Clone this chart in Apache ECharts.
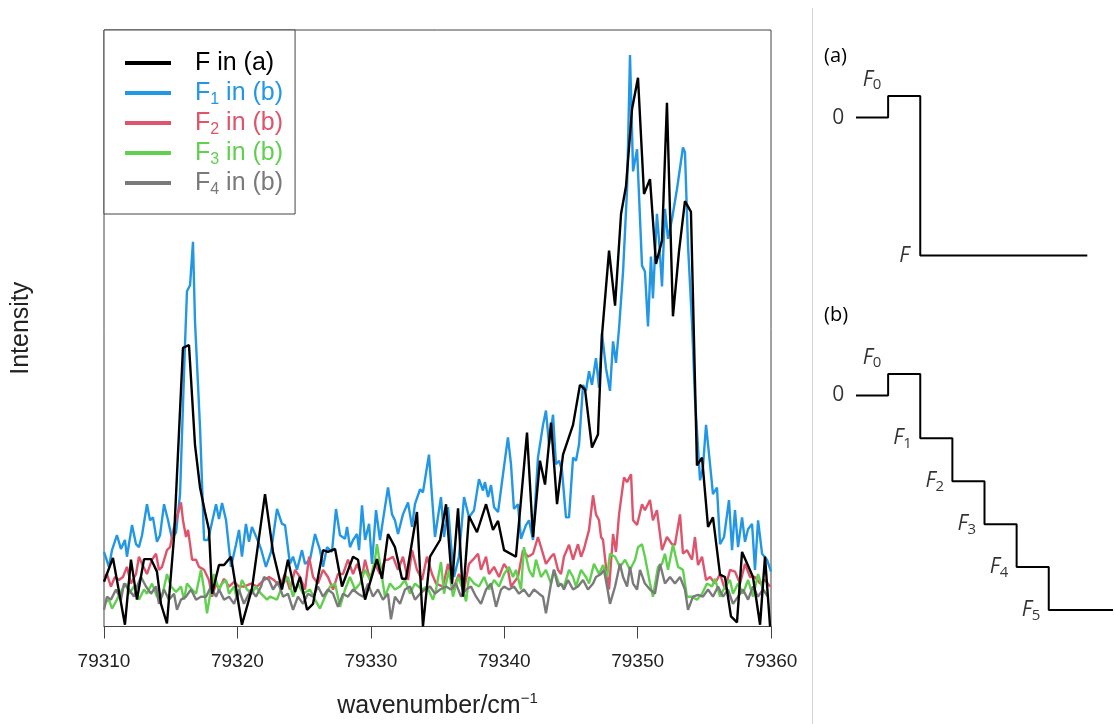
<!DOCTYPE html>
<html>
<head>
<meta charset="utf-8">
<title>Intensity vs wavenumber</title>
<script src="https://cdn.jsdelivr.net/npm/echarts@6/dist/echarts.min.js"></script>
<style>
  html, body { margin: 0; padding: 0; background: #fff; }
  #chart { width: 1115px; height: 724px; }
</style>
</head>
<body>
<div id="chart"></div>
<script>
// wavenumbers are stored as offsets from this value (cm-1)
var WN_START = 79310;
var xTicks = [79310, 79320, 79330, 79340, 79350, 79360];

// F in (a) : [offset, intensity]
var fA = [[0,7.5],[0.67,11.5],[1.57,0.3],[2.02,11.2],[2.47,4.5],[3.0,11.3],[3.52,11.3],[3.97,9.2],[4.27,3.8],[4.72,0.5],
  [5.25,15],[5.92,46.7],[6.37,47.2],[6.82,30.5],[7.2,23.3],[7.57,19.2],[7.87,16.2],[8.1,5.5],[8.62,10.3],[9.0,10.3],
  [9.52,11.7],[10.34,0.3],[11.09,6.3],[12.07,22.2],[12.67,12.5],[13.34,6.2],[13.79,11.2],[14.32,5.8],[14.69,8.3],[15.22,2.8],
  [15.67,3.8],[16.42,12.8],[16.79,12.5],[17.32,13],[17.84,6.7],[18.67,11.7],[19.04,11.2],[19.57,4.5],[20.46,11.3],[20.84,8],
  [21.29,15.5],[21.81,13.3],[22.34,8],[22.64,8],[23.46,19.2],[23.91,0],[24.44,11.7],[25.19,14.5],[25.64,20.5],[26.09,7.2],
  [26.54,19.8],[26.91,5],[27.36,18.5],[27.96,15.8],[28.64,20.5],[29.16,16.2],[29.54,17.7],[29.99,12.8],[30.88,11.7],[31.71,32.5],
  [32.16,15],[32.68,27.8],[33.06,23.8],[33.51,34.2],[33.96,20.5],[34.41,28.8],[35.16,33.8],[35.68,40.5],[36.06,39.7],[36.58,30],
  [37.03,32.2],[37.33,48.8],[37.86,63],[38.31,53.8],[38.76,69.2],[39.13,73.8],[39.58,86.7],[40.03,92],[40.48,72.5],[40.93,75],
  [41.38,60.8],[41.83,64.7],[42.2,87.8],[42.65,52],[43.1,62.8],[43.55,71.3],[44.0,69.5],[44.45,27],[44.83,28.3],[45.28,16.7],
  [45.65,18.3],[46.18,8.7],[46.55,8.3],[47.0,1.7],[47.45,0.7],[47.83,12.5],[48.65,8.3],[49.18,0.3],[49.55,11.7],[49.93,0]];

// F1 in (b)
var fB1 = [[0,12.5],[0.37,10],[0.6,12.8],[0.97,15.3],[1.27,13],[1.57,14.5],[1.72,11.7],[2.1,17],[2.4,13.8],[2.62,13.3],
  [2.85,15.3],[3.22,20.5],[3.45,17.8],[3.67,18.3],[3.97,14.2],[4.2,15.3],[4.5,20.5],[4.8,17.8],[5.1,14.7],[5.4,15.8],
  [5.7,22.2],[6.07,47.2],[6.22,56.2],[6.45,57.2],[6.67,64.5],[6.82,51.2],[7.2,33.3],[7.5,14.5],[7.8,14.5],[8.1,17.5],
  [8.4,20.5],[8.62,18],[8.85,20.7],[9.15,17.8],[9.52,10],[9.9,13.8],[10.12,16.2],[10.34,11.7],[10.64,17.2],[10.87,14.2],
  [11.09,16.7],[11.47,14.7],[11.77,13],[12.14,10],[12.52,12.5],[12.97,19.7],[13.34,17.2],[13.57,17],[13.94,10.5],[14.17,11.7],
  [14.47,9.5],[14.84,12.8],[15.07,10.5],[15.44,11.2],[15.82,15.5],[16.19,12.8],[16.42,10],[16.72,13.3],[17.09,12.5],[17.39,19.7],
  [17.69,15.3],[18.07,14.7],[18.22,16.7],[18.44,13.3],[18.67,14.5],[18.97,15.5],[19.12,12.8],[19.34,20.3],[19.57,14.5],[19.87,17.2],
  [20.09,10.5],[20.39,19.5],[20.69,14.5],[20.91,17.8],[21.29,23.3],[21.59,18.8],[21.81,17.8],[22.04,15.5],[22.41,18.8],[22.79,20.8],
  [23.09,16.7],[23.31,20.5],[23.69,23],[23.91,22.5],[24.36,28.8],[24.81,15],[25.26,21.7],[25.49,15],[25.79,20],[26.01,13.8],
  [26.24,8.3],[26.61,11.7],[26.99,21.7],[27.36,18.3],[27.74,19.5],[28.11,24.7],[28.41,22.8],[28.56,24.2],[28.79,21.7],[29.01,23.7],
  [29.24,20],[29.54,19.2],[29.91,25.5],[30.28,31.7],[30.51,27.2],[30.73,19.7],[31.03,20.5],[31.26,14.7],[31.63,17],[31.86,17.8],
  [32.16,14.5],[32.53,28.3],[32.91,33.8],[33.13,36.2],[33.36,30.5],[33.66,35.5],[33.88,27.2],[34.11,27.8],[34.33,26.2],[34.63,18.3],
  [34.86,18.3],[35.16,28.3],[35.38,27.8],[35.61,30.5],[35.91,40.5],[36.13,39.5],[36.36,42.8],[36.58,40.5],[36.88,45],[37.11,40],
  [37.33,49.2],[37.63,43.3],[37.93,39.5],[38.16,47.8],[38.38,44.2],[38.61,50],[38.91,59.5],[39.21,73.3],[39.43,95.8],[39.66,76.3],
  [39.96,80],[40.33,60.5],[40.55,59.5],[40.78,50.3],[41.0,62],[41.15,55],[41.45,69.2],[41.6,65],[41.83,57],[42.05,70],
  [42.28,65],[42.58,68.3],[42.95,73.3],[43.4,80.3],[43.55,79.5],[43.78,63.8],[44.08,50.8],[44.3,38.3],[44.68,24.5],[44.9,26.7],
  [45.13,33.8],[45.43,27.2],[45.65,22.2],[45.95,23.3],[46.18,13.8],[46.48,15],[46.85,21.2],[47.08,12.8],[47.3,19.5],[47.53,13.3],
  [47.83,18.3],[48.05,14.2],[48.28,16.3],[48.58,17.2],[48.8,9.5],[49.03,17.8],[49.33,12.2],[49.7,11.2],[50.0,9.2]];

// F2 in (b)
var fB2 = [[0,8.3],[0.22,8.8],[0.52,6.7],[0.82,8.3],[1.12,7.8],[1.42,8.3],[1.72,10],[2.02,7.2],[2.4,8.8],[2.62,11.7],
  [2.85,10.5],[3.22,8.8],[3.6,11.2],[3.9,12.2],[4.12,9.5],[4.35,10],[4.72,12.8],[4.95,13.3],[5.25,16.7],[5.47,18.3],
  [5.77,20.8],[5.92,17.8],[6.15,15],[6.3,16.2],[6.45,13.8],[6.6,11.2],[6.9,11.2],[7.12,10],[7.5,9.5],[7.87,7.8],
  [8.1,5],[8.4,7.2],[8.62,6.2],[9.0,8],[9.37,6.7],[9.75,7.5],[10.12,6.7],[10.49,6.7],[11.02,7.2],[11.47,6.7],
  [11.99,7.8],[12.37,8.3],[12.74,7.8],[13.19,6.7],[13.57,8.8],[13.94,6.2],[14.32,9.5],[14.69,8.3],[15.07,6.2],[15.37,11.7],
  [15.67,8.3],[16.04,7.2],[16.42,9.5],[16.79,8.3],[17.17,6.2],[17.54,8.8],[17.92,8.8],[18.29,11.2],[18.67,8.8],[18.97,10.5],
  [19.34,8.3],[19.57,11.2],[19.94,7.8],[20.31,10.5],[20.69,8.8],[21.06,11.2],[21.29,11.2],[21.66,11.7],[22.04,9.5],[22.41,11.7],
  [22.79,7.8],[23.09,12.8],[23.46,9.5],[23.84,7.8],[24.21,11.7],[24.59,8.8],[24.89,7.2],[25.41,6.7],[25.79,10.5],[26.16,6.2],
  [26.61,8.8],[26.99,6.2],[27.36,10.5],[27.66,11.2],[28.04,12.2],[28.26,9.5],[28.64,11.7],[28.86,8.8],[29.24,10],[29.61,8.3],
  [29.99,10.5],[30.28,9.5],[30.51,6.7],[31.03,8.3],[31.41,12.8],[31.78,11.7],[32.16,12.2],[32.53,15],[32.76,13.3],[33.13,10.5],
  [33.51,11.7],[33.73,12.2],[34.03,9.5],[34.26,8.8],[34.48,11.7],[34.86,13.7],[35.16,11.2],[35.53,13.8],[35.76,11.7],[35.98,13],
  [36.36,16.2],[36.66,22],[36.88,18.8],[37.11,17.8],[37.26,15],[37.41,14.5],[37.63,10],[37.86,6.2],[38.16,15.5],[38.38,12.5],
  [38.61,18.8],[38.98,25],[39.21,24.2],[39.51,25.5],[39.66,17.8],[39.96,17],[40.33,20.5],[40.55,19.5],[40.93,21.2],[41.15,17.8],
  [41.45,19.5],[41.83,12.8],[42.2,15],[42.58,13.8],[42.8,13.7],[43.18,18.8],[43.4,12.2],[43.7,12.8],[44.08,11.2],[44.3,15],
  [44.53,10.3],[44.83,11.7],[45.13,7.8],[45.43,8.3],[45.8,7.2],[46.18,8.8],[46.55,6.2],[46.93,9.5],[47.3,9.2],[47.68,7.2],
  [48.05,10.5],[48.43,8.3],[48.8,8.3],[49.18,7.2],[49.55,7.8],[49.93,6.7]];

// F3 in (b)
var fB3 = [[0,3.8],[0.37,4.5],[0.6,3],[0.97,4.5],[1.35,6.2],[1.65,7.2],[1.87,5.5],[2.25,6.7],[2.62,4.5],[3.0,6.2],
  [3.22,5.5],[3.6,7.2],[3.97,5],[4.35,5],[4.72,8.8],[5.02,6.7],[5.4,5.8],[5.77,6.7],[6.0,4.5],[6.22,7.2],
  [6.6,6.2],[6.9,5.5],[7.27,9.5],[7.5,6.2],[7.72,2.2],[8.02,6.2],[8.25,8.8],[8.62,6.2],[8.85,7.2],[9.15,7.8],
  [9.37,5.5],[9.75,6.7],[9.97,4.5],[10.34,7.8],[10.72,6.2],[11.09,5.5],[11.39,6.7],[11.77,5.5],[12.22,4.5],[12.44,5],
  [12.97,4.5],[13.42,7.2],[13.79,8.3],[14.17,5],[14.54,7.2],[14.92,5.5],[15.44,6.2],[15.82,4.5],[16.19,3],[16.57,5],
  [16.94,6.7],[17.32,7.2],[17.69,3.3],[18.07,6.2],[18.44,8.3],[18.82,6.2],[19.19,7.2],[19.57,9.5],[19.94,7.8],[20.31,11.2],
  [20.46,13.8],[20.84,8.3],[21.06,5],[21.44,7.2],[21.81,6.2],[22.19,6.7],[22.56,7.8],[22.94,5.5],[23.31,7.2],[23.84,6.2],
  [24.21,6.7],[24.66,4.5],[24.89,6.2],[25.26,10.8],[25.49,5.5],[25.86,9.5],[26.16,5],[26.54,8.3],[26.91,6.2],[27.14,4.2],
  [27.36,8.3],[27.74,7.2],[28.11,6.7],[28.49,8.3],[28.86,6.2],[29.24,7.8],[29.61,6.7],[29.99,8.8],[30.36,10],[30.66,8.3],
  [30.88,9.5],[31.26,6.2],[31.48,13.3],[31.86,9.5],[32.16,8.3],[32.38,11.2],[32.76,8.3],[33.13,9.5],[33.51,7.2],[33.73,9.5],
  [34.11,7.2],[34.48,6.7],[34.86,9.5],[35.16,8.3],[35.38,6.7],[35.76,9.5],[36.13,8.3],[36.36,7.2],[36.73,10.5],[37.11,8.8],
  [37.41,10.3],[37.71,8.3],[37.93,12.2],[38.31,11.7],[38.68,10],[39.06,11.2],[39.43,9.5],[39.81,11.2],[40.03,13.3],[40.33,13.8],
  [40.55,11.7],[40.93,7.2],[41.15,5],[41.53,10],[41.83,10.5],[42.05,12.2],[42.28,9.5],[42.65,13.7],[43.03,10],[43.4,9.5],
  [43.7,5],[44.08,5],[44.45,4.5],[44.83,5.5],[45.2,7.2],[45.58,6.7],[45.8,8],[46.18,5],[46.55,6.7],[46.93,7.8],
  [47.15,5.5],[47.53,7.2],[47.9,5.5],[48.28,7.8],[48.65,5],[49.03,8.8],[49.4,6.2],[49.78,5]];

// F4 in (b)
var fB4 = [[0,2.8],[0.22,5],[0.52,4.5],[0.9,6.2],[1.27,4.5],[1.5,7.2],[1.87,6.2],[2.25,5],[2.47,6.7],[2.77,8.3],
  [3.15,6.7],[3.52,5.5],[3.9,6.7],[4.12,3.8],[4.5,6.2],[4.87,4.5],[5.25,5.5],[5.47,2.8],[5.77,4.5],[6.15,5],
  [6.52,6.2],[6.9,4.5],[7.27,5],[7.65,5],[8.02,6.7],[8.4,5],[8.62,6.2],[9.0,4.5],[9.37,5],[9.75,3.8],
  [10.12,6.2],[10.49,3.8],[11.02,6.2],[11.39,5],[11.77,6.7],[11.99,8.3],[12.37,7.8],[12.67,6.2],[13.04,7.5],[13.42,5],
  [13.79,5.5],[14.17,2.8],[14.54,5],[14.92,3.8],[15.29,5.5],[15.67,5],[16.04,6.7],[16.42,5],[16.79,6.2],[17.17,5.5],
  [17.54,3.3],[17.92,5.5],[18.29,5],[18.67,6.2],[19.04,5.5],[19.42,5],[19.79,7.2],[20.16,5],[20.54,6.2],[20.91,4.5],
  [21.29,5.5],[21.51,1.2],[21.81,5],[22.19,3.8],[22.56,6.2],[22.94,6.7],[23.31,4.5],[23.69,5.5],[24.06,6.2],[24.44,6.7],
  [24.81,5.5],[25.19,6.2],[25.64,6.7],[26.01,6.2],[26.39,7.2],[26.76,5],[27.14,6.2],[27.51,6.7],[27.89,5],[28.26,3.8],
  [28.64,6.2],[29.01,7.2],[29.39,3.3],[29.76,6.2],[29.99,6.7],[30.36,6.2],[30.73,6.7],[31.11,5.5],[31.48,6.2],[31.86,5],
  [32.23,6.2],[32.61,5.5],[32.91,5],[33.13,2.2],[33.51,7.2],[33.73,9.5],[34.03,6.7],[34.26,7.2],[34.48,6.2],[34.78,7.8],
  [35.16,6.2],[35.53,6.7],[35.91,7.8],[36.28,6.2],[36.66,7.2],[36.88,8.3],[37.26,8.8],[37.48,9.5],[37.71,6.7],[37.93,3.8],
  [38.31,6.7],[38.68,10.5],[38.91,8.3],[39.21,6.7],[39.43,10],[39.66,7.2],[39.96,6.2],[40.18,9.5],[40.55,7.2],[40.93,6.2],
  [41.3,5.5],[41.68,10.5],[42.05,7.2],[42.43,8.3],[42.8,7.2],[43.18,8.3],[43.55,6.2],[43.78,2.8],[44.15,5],[44.53,5.3],
  [44.9,5],[45.28,6.2],[45.65,5],[46.03,6.7],[46.4,5],[46.78,6.2],[47.15,3.8],[47.53,5],[47.9,6.2],[48.28,4.5],
  [48.65,6.7],[49.03,5],[49.4,6.2],[49.78,5]];

var seriesNames = ['F in (a)', 'F1 in (b)', 'F2 in (b)', 'F3 in (b)', 'F4 in (b)'];
var seriesSub = ['', '1', '2', '3', '4'];
var seriesData = [fA, fB1, fB2, fB3, fB4];
var seriesColors = ['#000000', '#2297E6', '#DF536B', '#61D04F', '#7A7A7A'];

// energy level diagrams: [step, level]
var levelsA = [[0,0],[1,0],[1,0.5],[2,0.5],[2,-3.2],[7.2,-3.2]];
var levelsB = [[0,0],[1,0],[1,0.5],[2,0.5],[2,-1],[3,-1],[3,-2],[4,-2],[4,-3],[5,-3],[5,-4],[6,-4],[6,-5],[8,-5]];
var levelTagsA = [['0', '', -0.55, 0], ['F', '0', 0.5, 0.88], ['F', '', 1.5, -3.2]];
var levelTagsB = [['0', '', -0.55, 0], ['F', '0', 0.5, 0.88], ['F', '1', 1.45, -1],
  ['F', '2', 2.45, -2], ['F', '3', 3.45, -3], ['F', '4', 4.45, -4], ['F', '5', 5.45, -5]];

var FONT = 'Liberation Sans, Arial, sans-serif';
var SIDE_FONT = 'Open Sans, Noto Sans, sans-serif';

var chart = echarts.init(document.getElementById('chart'), null, { renderer: 'canvas' });

var legendRich = { sp: { width: 19 } };
seriesColors.forEach(function (c, i) {
  legendRich['t' + i] = { color: c, fontSize: 25, lineHeight: 30, fontFamily: FONT };
  legendRich['s' + i] = { color: c, fontSize: 16, lineHeight: 16, verticalAlign: 'bottom', fontFamily: FONT };
});

function tagSeries(tags, ax) {
  return {
    type: 'scatter',
    xAxisIndex: ax, yAxisIndex: ax,
    symbolSize: 1,
    clip: false,
    silent: true,
    itemStyle: { color: 'rgba(0,0,0,0)' },
    label: {
      show: true,
      position: 'inside',
      formatter: function (p) { return p.data.tag; },
      rich: {
        n: { fontSize: 21, color: '#000', fontFamily: SIDE_FONT, lineHeight: 26 },
        i: { fontSize: 21, color: '#000', fontStyle: 'italic', fontFamily: SIDE_FONT, lineHeight: 26 },
        s: { fontSize: 15, color: '#000', fontFamily: SIDE_FONT, lineHeight: 15, verticalAlign: 'bottom' }
      }
    },
    data: tags.map(function (t) {
      var txt = t[0] === 'F' ? '{i|F}' + (t[1] ? '{s|' + t[1] + '}' : '') : '{n|' + t[0] + '}';
      return { value: [t[2], t[3]], tag: txt };
    })
  };
}

function levelSeries(pts, ax) {
  return {
    type: 'line',
    xAxisIndex: ax, yAxisIndex: ax,
    data: pts,
    symbol: 'none',
    silent: true,
    clip: false,
    lineStyle: { color: '#000', width: 2 }
  };
}

var mainSeries = [];
// colored curves first, black curve on top
[1, 2, 3, 4, 0].forEach(function (k) {
  mainSeries.push({
    name: seriesNames[k],
    type: 'line',
    data: seriesData[k].map(function (p) { return [WN_START + p[0], p[1]]; }),
    symbol: 'none',
    clip: true,
    lineStyle: { color: seriesColors[k], width: 2.4 },
    itemStyle: { color: seriesColors[k] }
  });
});

var option = {
  animation: false,
  backgroundColor: '#fff',
  textStyle: { fontFamily: FONT },
  grid: [
    { left: 104, right: 344, top: 30, bottom: 94, show: true, borderColor: '#444', borderWidth: 1 },
    { left: 856, top: 74.5, width: 257, height: 194 },
    { left: 856, top: 352.5, width: 257, height: 279 }
  ],
  xAxis: [
    {
      type: 'value', gridIndex: 0,
      min: xTicks[0], max: xTicks[xTicks.length - 1], interval: 10,
      axisLine: { show: true, lineStyle: { color: '#444', width: 1 } },
      axisTick: { show: true, inside: false, length: 12, lineStyle: { color: '#444' } },
      axisLabel: { fontSize: 19, color: '#222', margin: 26, fontFamily: FONT,
        formatter: function (v) { return String(v); } },
      splitLine: { show: false },
      name: '{t|wavenumber/cm}{sup|\u22121}',
      nameLocation: 'middle',
      nameGap: 65,
      nameTextStyle: {
        rich: {
          t: { fontSize: 25, color: '#222', fontFamily: FONT, lineHeight: 30 },
          sup: { fontSize: 15, color: '#222', fontFamily: FONT, verticalAlign: 'top', lineHeight: 15 }
        }
      }
    },
    { type: 'value', gridIndex: 1, min: 0, max: 8, show: false },
    { type: 'value', gridIndex: 2, min: 0, max: 8, show: false }
  ],
  yAxis: [
    {
      type: 'value', gridIndex: 0, min: 0, max: 100,
      axisLine: { show: false }, axisTick: { show: false }, axisLabel: { show: false },
      splitLine: { show: false },
      name: 'Intensity', nameLocation: 'middle', nameGap: 70,
      nameTextStyle: { fontSize: 25, color: '#222', fontFamily: FONT }
    },
    { type: 'value', gridIndex: 1, min: -3.5, max: 1, show: false },
    { type: 'value', gridIndex: 2, min: -5.5, max: 1, show: false }
  ],
  legend: {
    left: 104, top: 30,
    orient: 'vertical',
    selectedMode: false,
    backgroundColor: '#fff',
    borderColor: '#444', borderWidth: 1, borderRadius: 0,
    padding: [18, 12, 16, 21],
    itemGap: 0,
    itemWidth: 46, itemHeight: 4,
    icon: 'rect',
    data: seriesNames.map(function (n, i) { return { name: n, itemStyle: { color: seriesColors[i] } }; }),
    formatter: function (name) {
      var i = seriesNames.indexOf(name);
      var head = '{sp|}{t' + i + '|F}';
      var sub = seriesSub[i] ? '{s' + i + '|' + seriesSub[i] + '}' : '';
      var tail = '{t' + i + '|' + name.replace(/^F\d?/, '') + '}';
      return head + sub + tail;
    },
    textStyle: { fontSize: 25, fontFamily: FONT, lineHeight: 30, rich: legendRich }
  },
  graphic: [
    { type: 'line', shape: { x1: 812.5, y1: 8, x2: 812.5, y2: 724 }, style: { stroke: '#d4d4d4', lineWidth: 1 }, silent: true },
    { type: 'text', left: 824, top: 46, style: { text: '(a)', fontSize: 20, fontFamily: SIDE_FONT, fill: '#000' }, silent: true },
    { type: 'text', left: 824, top: 305, style: { text: '(b)', fontSize: 20, fontFamily: SIDE_FONT, fill: '#000' }, silent: true }
  ],
  series: mainSeries.concat([
    levelSeries(levelsA, 1),
    levelSeries(levelsB, 2),
    tagSeries(levelTagsA, 1),
    tagSeries(levelTagsB, 2)
  ])
};

chart.setOption(option);
</script>
</body>
</html>
